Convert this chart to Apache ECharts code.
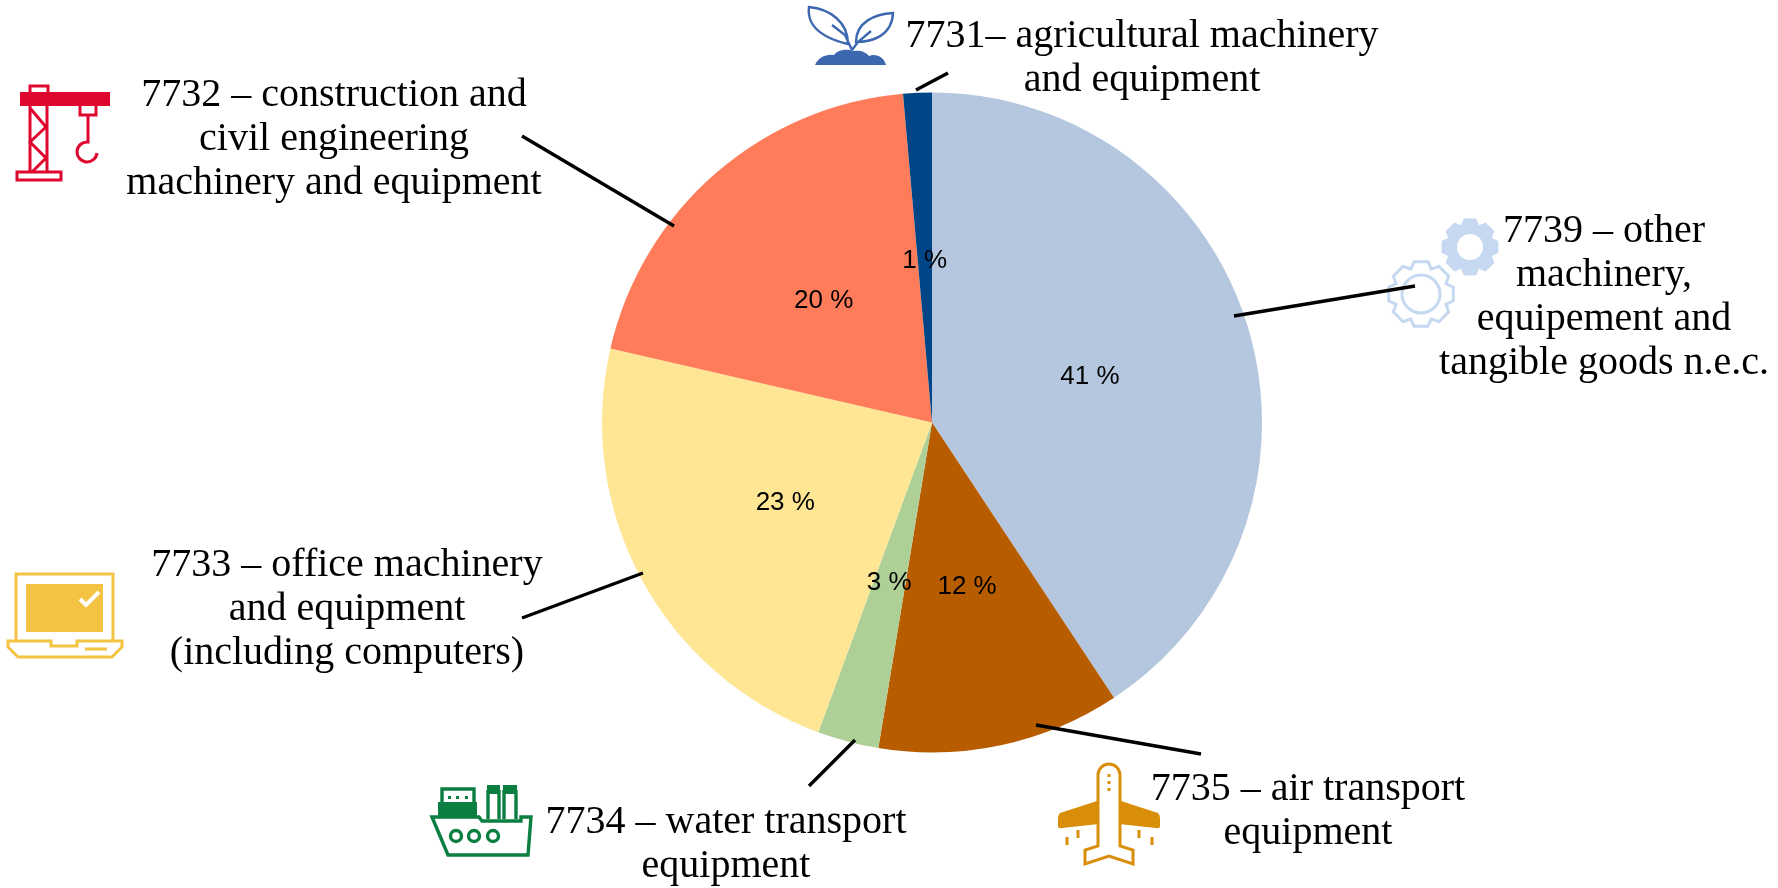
<!DOCTYPE html>
<html>
<head>
<meta charset="utf-8">
<style>html,body{margin:0;padding:0;background:#fff}#c{width:1778px;height:888px}</style>
<script src="https://cdn.jsdelivr.net/npm/echarts@6/dist/echarts.min.js"></script>
</head>
<body>
<div id="c"></div>
<script>
const codes = ['7739','7735','7734','7733','7732','7731'];
const shares = [40.7, 11.9, 3.0, 23.0, 20.0, 1.4];
const sliceColors = ['#b4c7de','#b85c00','#aed097','#fee695','#ff7c5a','#004586'];
const captions = [
  '7739 – other\nmachinery,\nequipement and\ntangible goods n.e.c.',
  '7735 – air transport\nequipment',
  '7734 – water transport\nequipment',
  '7733 – office machinery\nand equipment\n(including computers)',
  '7732 – construction and\ncivil engineering\nmachinery and equipment',
  '7731– agricultural machinery\nand equipment'
];
const captionAnchors = [[1604,209],[1308,767],[726,800],[347,543],[334,73],[1142,14]];
const leaders = [
  [1234,316,1415,286],[1036,725,1201,754],[809,786,855,740],
  [522,618,643,573],[522,136,674,226],[916,90,948,73]
];
const labelNudges = [[-3,3],[0,0],[0,-2],[1,0],[2,5],[0,6]];

let shapeId = 0;
function icon(d, style) {
  const name = 'ic' + (shapeId++);
  echarts.graphic.registerShape(name, echarts.graphic.extendPath(d, {}));
  return { type: name, silent: true, style: style, shape: {} };
}
const stroke = (c, w) => ({ fill: 'none', stroke: c, lineWidth: w || 3 });
const fill = c => ({ fill: c, stroke: 'none' });

function gear(cx, cy, rOut, rIn, n) {
  const step = Math.PI * 2 / n, pts = [];
  for (let i = 0; i < n; i++) {
    const a = -Math.PI / 2 + i * step;
    [[-0.5, rIn], [-0.27, rOut], [0.27, rOut], [0.5, rIn]].forEach(p => {
      const t = a + p[0] * step;
      pts.push((cx + p[1] * Math.cos(t)).toFixed(1) + ' ' + (cy + p[1] * Math.sin(t)).toFixed(1));
    });
  }
  return 'M' + pts.join(' L') + ' Z';
}

const RED = '#e0072f', SPR = '#3d68b0', GEAR = '#c6d9f1', LAP = '#f4c343', SHIP = '#0a7f41', AIR = '#d98e0a';
const icons = [
  // crane
  icon('M20 92 H110 V106 H20 Z', fill(RED)),
  icon('M30 92 V86 H48 V92 M30 106 V172 M47 106 V172 M30 108 L46 127 L30 142 L46 158 L32 172 M17 172 H61 V180 H17 Z M80 106 V115 H96 V106 M88 115 V142 A10 10 0 1 0 97 153', stroke(RED, 3)),
  // sprout
  icon('M809 7 C830 9 848 22 848 44 C830 40 806 30 809 7 Z M832 25 L845 35 L852 50 M893 13 C875 14 856 22 856 42 C872 42 892 36 893 13 Z M871 31 L858 42 L852 50', stroke(SPR, 2.4)),
  icon('M815 65 C818 58 825 54 834 55 C838 49 848 49 854 51 C860 50 866 52 869 56 C876 53 884 57 886 65 Z', fill(SPR)),
  // filled gear
  icon(gear(1470, 247, 29, 23.5, 8), fill(GEAR)),
  { type: 'circle', silent: true, shape: { cx: 1470, cy: 247, r: 13 }, style: fill('#fff') },
  // outlined gear
  icon(gear(1421, 294, 33, 27, 8), stroke(GEAR, 3)),
  { type: 'circle', silent: true, shape: { cx: 1421, cy: 294, r: 19 }, style: stroke(GEAR, 3) },
  // laptop
  icon('M16 641 V574 H113 V641', stroke(LAP, 3)),
  icon('M26 584 H103 V632 H26 Z', fill(LAP)),
  icon('M80 599 L86 605 L99 592', stroke('#fff', 4)),
  icon('M8 641 H51 V646 H77 V641 H122 V647 L112 657 H18 L8 647 Z M85 649 H107', stroke(LAP, 3)),
  // ship
  icon('M432 817 L448 855 H528 L531 817 H521 V821 H482 L479 817 Z', stroke(SHIP, 3.4)),
  icon('M438 802 H477 V817 H438 Z M487 785 H500 V794 H487 Z M503 785 H517 V794 H503 Z M448 796 H451 V799 H448 Z M456 796 H459 V799 H456 Z M465 796 H468 V799 H465 Z', fill(SHIP)),
  icon('M442 802 V789 H474 V802 M488 790 V819 M499 790 V819 M504 790 V819 M516 790 V819', stroke(SHIP, 3.4)),
  { type: 'circle', silent: true, shape: { cx: 456, cy: 836, r: 5.5 }, style: stroke(SHIP, 3.4) },
  { type: 'circle', silent: true, shape: { cx: 474, cy: 836, r: 5.5 }, style: stroke(SHIP, 3.4) },
  { type: 'circle', silent: true, shape: { cx: 493, cy: 836, r: 5.5 }, style: stroke(SHIP, 3.4) },
  // plane
  icon('M1097 801 L1060 813 Q1058 815 1058 818 V826 Q1058 829 1062 828 L1099 824 Z M1121 801 L1158 813 Q1160 815 1160 818 V826 Q1160 829 1156 828 L1119 824 Z', fill(AIR)),
  icon('M1098 846 V775 A11 11 0 0 1 1120 775 V846 L1133 850 V864 L1109 856 L1085 864 V850 Z', stroke(AIR, 3)),
  icon('M1067 837 V845 M1078 830 V838 M1139 830 V838 M1152 837 V845 M1109 774 V777 M1109 781 V784 M1109 788 V791', stroke(AIR, 3))
];

const texts = captions.map((t, i) => ({
  type: 'text', silent: true,
  style: {
    text: t, x: captionAnchors[i][0], y: captionAnchors[i][1],
    textAlign: 'center', textVerticalAlign: 'top',
    font: '40px "Liberation Serif"', lineHeight: 44, fill: '#000'
  }
}));
const lines = leaders.map(l => ({
  type: 'line', silent: true,
  shape: { x1: l[0], y1: l[1], x2: l[2], y2: l[3] },
  style: { stroke: '#000', lineWidth: 3.4 }
}));

const chart = echarts.init(document.getElementById('c'), null, { renderer: 'canvas' });
chart.setOption({
  animation: false,
  backgroundColor: '#fff',
  series: [{
    type: 'pie',
    center: [932, 422.5],
    radius: [0, 330],
    startAngle: 90,
    clockwise: true,
    silent: true,
    avoidLabelOverlap: false,
    data: codes.map((c, i) => ({ name: c, value: shares[i], itemStyle: { color: sliceColors[i] } })),
    label: {
      show: true, position: 'inside',
      formatter: p => Math.round(p.value) + ' %',
      fontFamily: 'Liberation Sans', fontSize: 26, color: '#000'
    },
    labelLayout: p => ({ dx: labelNudges[p.dataIndex][0], dy: labelNudges[p.dataIndex][1] }),
    labelLine: { show: false }
  }],
  graphic: { elements: [...icons.map(e => ({ ...e, z: 100 })), ...lines.map(e => ({ ...e, z: 101 })), ...texts.map(e => ({ ...e, z: 102 }))] }
});
</script>
</body>
</html>
